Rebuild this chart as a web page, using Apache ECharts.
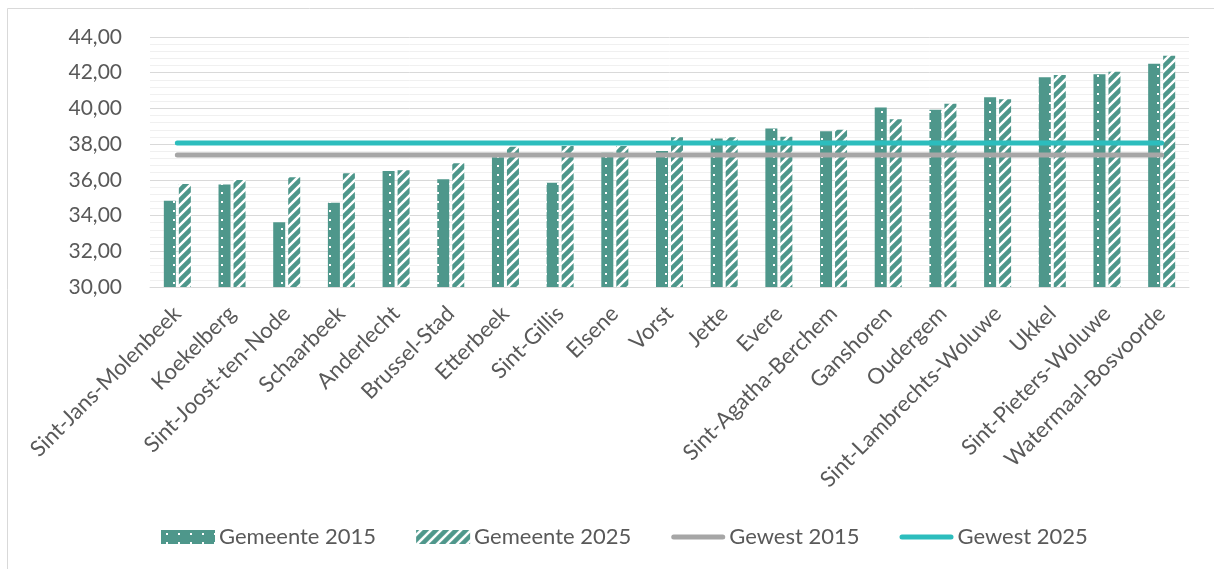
<!DOCTYPE html>
<html>
<head>
<meta charset="utf-8">
<script src="https://cdn.jsdelivr.net/npm/echarts@6/dist/echarts.min.js"></script>
<style>
html,body{margin:0;padding:0;background:#fff;}
#c{width:1214px;height:569px;}
</style>
</head>
<body>
<div id="c"></div>
<script>
const categories = ['Sint-Jans-Molenbeek','Koekelberg','Sint-Joost-ten-Node','Schaarbeek','Anderlecht','Brussel-Stad','Etterbeek','Sint-Gillis','Elsene','Vorst','Jette','Evere','Sint-Agatha-Berchem','Ganshoren','Oudergem','Sint-Lambrechts-Woluwe','Ukkel','Sint-Pieters-Woluwe','Watermaal-Bosvoorde'];
const gemeente2015 = [34.83,35.74,33.62,34.72,36.50,36.03,37.27,35.84,37.52,37.62,38.31,38.87,38.72,40.05,39.92,40.63,41.74,41.92,42.50];
const gemeente2025 = [35.77,35.99,36.14,36.37,36.54,36.93,37.86,37.90,37.90,38.39,38.39,38.42,38.80,39.40,40.26,40.52,41.87,42.05,42.95];
const gewest2015 = 37.39;
const gewest2025 = 38.07;
const yTicks = {min: 30, max: 44, interval: 2};

const TEAL = '#4E978B';

function dotPattern(){
  const c = document.createElement('canvas');
  c.width = 12; c.height = 18;
  const g = c.getContext('2d');
  g.fillStyle = TEAL; g.fillRect(0,0,12,18);
  g.fillStyle = '#ffffff';
  g.fillRect(5,3,2,2);
  g.fillRect(5,12,2,2);
  return c;
}
function stripePattern(){
  const s = 10;
  const c = document.createElement('canvas');
  c.width = s; c.height = s;
  const g = c.getContext('2d');
  g.fillStyle = '#ffffff'; g.fillRect(0,0,s,s);
  g.strokeStyle = TEAL; g.lineWidth = 4.5;
  g.beginPath();
  g.moveTo(-s, 2*s); g.lineTo(2*s, -s);
  g.moveTo(-2*s, 2*s); g.lineTo(s, -s);
  g.moveTo(0, 2*s); g.lineTo(3*s, -s);
  g.stroke();
  return c;
}

const FONT = 'Lato';
const TXT = '#595959';
const linePath = 'path://M2.5,0 L51.5,0 A2.5,2.5 0 0 1 51.5,5 L2.5,5 A2.5,2.5 0 0 1 2.5,0 Z';

const chart = echarts.init(document.getElementById('c'), null, {renderer:'canvas'});
chart.setOption({
  animation: false,
  backgroundColor: '#fff',
  graphic: [{
    type: 'rect', shape: {x: 7.5, y: 8.5, width: 1400, height: 800},
    style: {fill: 'none', stroke: '#D9D9D9', lineWidth: 1}, silent: true, z: -10
  }],
  grid: {left: 150, right: 25, top: 37, bottom: 282, containLabel: false},
  legend: {
    bottom: 16, left: 156,
    itemWidth: 54, itemHeight: 14, itemGap: 40,
    textStyle: {fontFamily: FONT, fontSize: 22, color: TXT, padding: [0,0,0,-1]},
    data: [
      {name: 'Gemeente 2015', icon: 'rect'},
      {name: 'Gemeente 2025', icon: 'rect'},
      {name: 'Gewest 2015', icon: linePath},
      {name: 'Gewest 2025', icon: linePath}
    ]
  },
  xAxis: {
    type: 'category', data: categories,
    axisLine: {lineStyle: {color: '#D9D9D9', width: 1}},
    axisTick: {show: false},
    axisLabel: {rotate: 45, interval: 0, fontFamily: FONT, fontSize: 22, color: TXT, margin: 23}
  },
  yAxis: {
    type: 'value', min: yTicks.min, max: yTicks.max, interval: yTicks.interval,
    axisLine: {show: false}, axisTick: {show: false},
    axisLabel: {fontFamily: FONT, fontSize: 21, color: TXT, margin: 28,
      formatter: v => v.toFixed(2).replace('.', ',')},
    splitLine: {lineStyle: {color: '#D9D9D9', width: 1}},
    minorTick: {show: false, splitNumber: 5},
    minorSplitLine: {show: true, lineStyle: {color: '#F0F0F0', width: 1}}
  },
  series: [
    {name: 'Gemeente 2015', type: 'bar', data: gemeente2015, barWidth: 12, barGap: '25%',
      itemStyle: {color: {image: dotPattern(), repeat: 'repeat'}}},
    {name: 'Gemeente 2025', type: 'bar', data: gemeente2025, barWidth: 12, barGap: '25%',
      itemStyle: {color: {image: stripePattern(), repeat: 'repeat'}}},
    {name: 'Gewest 2015', type: 'line', data: categories.map(() => gewest2015),
      showSymbol: false, symbol: 'none', z: 5,
      lineStyle: {color: '#A6A6A6', width: 5, cap: 'round'}, itemStyle: {color: '#A6A6A6'}},
    {name: 'Gewest 2025', type: 'line', data: categories.map(() => gewest2025),
      showSymbol: false, symbol: 'none', z: 5,
      lineStyle: {color: '#2CBDBD', width: 5, cap: 'round'}, itemStyle: {color: '#2CBDBD'}}
  ]
});
</script>
</body>
</html>
